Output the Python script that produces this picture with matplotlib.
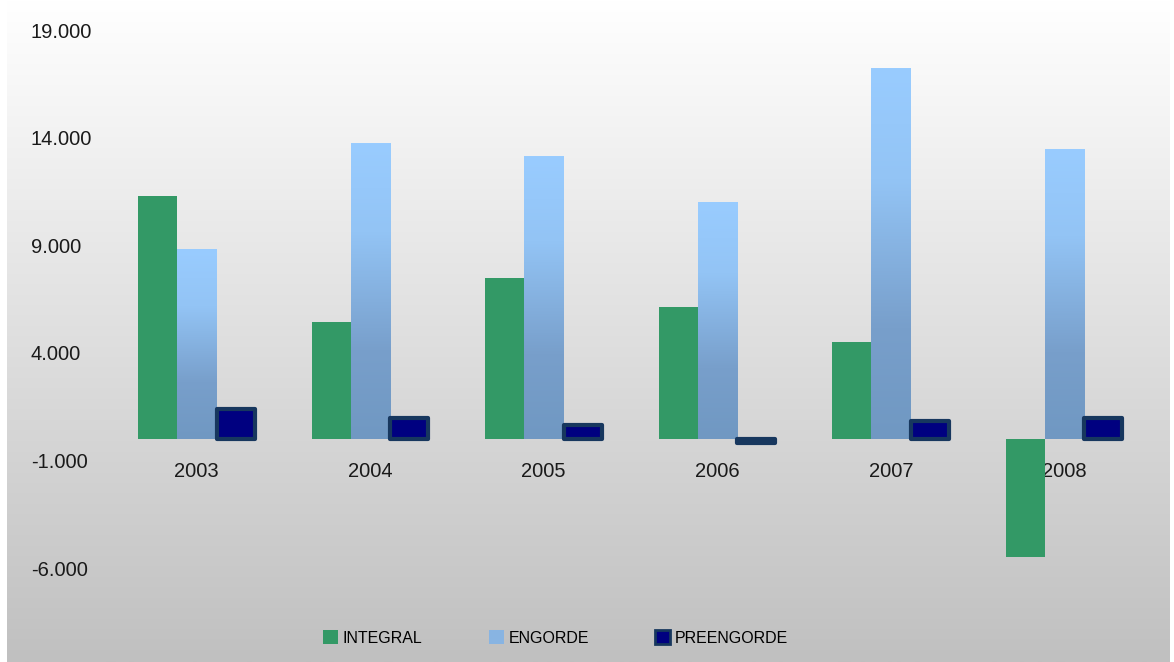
import numpy as np
import matplotlib
matplotlib.use("Agg")
import matplotlib.pyplot as plt
from matplotlib.colors import LinearSegmentedColormap
from matplotlib.patches import Patch
from matplotlib.ticker import FuncFormatter

years = ["2003", "2004", "2005", "2006", "2007", "2008"]
integral = [11270, 5410, 7460, 6110, 4480, -5510]
engorde = [8810, 13730, 13130, 10990, 17220, 13450]
preengorde = [1380, 950, 650, -180, 830, 950]

GREEN = "#339966"
NAVY = "#000080"
NAVY_EDGE = "#17375e"
TICK_FONT = ["Liberation Sans", "DejaVu Sans"]
LEGEND_FONT = ["Liberation Sans", "DejaVu Sans"]

blue_grad = LinearSegmentedColormap.from_list(
    "engorde", [(0.0, "#99ccff"), (0.3, "#93c4f5"), (0.7, "#789fcb"), (1.0, "#7098c2")]
)
bg_grad = LinearSegmentedColormap.from_list("bg", ["#ffffff", "#c0c0c0"])

fig = plt.figure(figsize=(11.74, 6.62), dpi=100)
fig.patch.set_facecolor("white")

# background gradient behind everything
bg = fig.add_axes([7 / 1174, 0, 1 - 11 / 1174, 1], zorder=-10)
bg.imshow(np.linspace(0, 1, 256).reshape(-1, 1), cmap=bg_grad, aspect="auto")
bg.axis("off")

ax = fig.add_axes([110 / 1174, 1 - 568 / 662, 1041 / 1174, 538 / 662])
ax.patch.set_alpha(0)

x = np.arange(len(years))
w = 0.225

ax.bar(x - w, integral, w, color=GREEN, zorder=3)

eng_bars = ax.bar(x, engorde, w, color="none", zorder=3)
grad = np.linspace(0, 1, 256).reshape(-1, 1)
for b in eng_bars:
    x0, y0 = b.get_x(), b.get_y()
    im = ax.imshow(grad, cmap=blue_grad, aspect="auto", zorder=3,
                   extent=[x0, x0 + b.get_width(), y0, y0 + b.get_height()])
    im.set_clip_path(b)

ax.bar(x + w, preengorde, w * 0.97, color=NAVY, edgecolor=NAVY_EDGE,
       linewidth=3, joinstyle="round", zorder=4)

ax.set_xlim(-0.5, len(years) - 0.5)
ax.set_ylim(-6000, 19000)
ax.set_yticks(np.arange(-6000, 19001, 5000))
ax.yaxis.set_major_formatter(FuncFormatter(lambda v, p: f"{v:,.0f}".replace(",", ".")))

# category labels sit on the zero line, like the original
ax.spines["bottom"].set_position(("data", 0))
for s in ["top", "right", "left", "bottom"]:
    ax.spines[s].set_visible(False)
ax.set_xticks(x)
ax.set_xticklabels(years)
ax.tick_params(axis="x", length=0, pad=17)
ax.tick_params(axis="y", length=0, pad=57)
for lab in ax.get_yticklabels():
    lab.set_horizontalalignment("left")
for lab in ax.get_xticklabels() + ax.get_yticklabels():
    lab.set_fontfamily(TICK_FONT)
    lab.set_fontsize(14.5)
    lab.set_color("#1a1a1a")

# legend: three equal slots
handles = [
    Patch(facecolor=GREEN, edgecolor="none"),
    Patch(facecolor="#88b4e2", edgecolor="none"),
    Patch(facecolor=NAVY, edgecolor=NAVY_EDGE, linewidth=2),
]
labels = ["INTEGRAL", "ENGORDE", "PREENGORDE"]
slots = [309, 475, 641]
for h, l, sx in zip(handles, labels, slots):
    fig.legend([h], [l], loc="center left", bbox_to_anchor=(sx / 1174, 1 - 638 / 662),
               frameon=False, handlelength=0.9, handleheight=0.9, handletextpad=0.3,
               prop={"family": LEGEND_FONT, "size": 11.5})

fig.savefig("out.png", dpi=100)
